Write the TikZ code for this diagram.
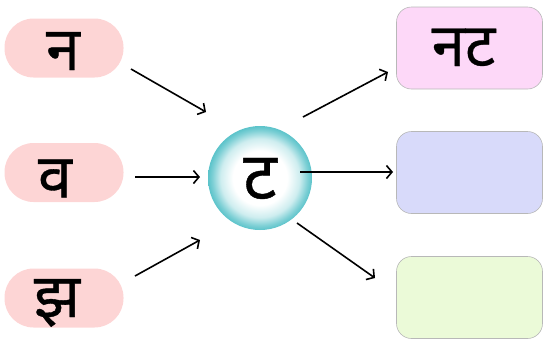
\documentclass[tikz,border=0pt]{standalone}
\usepackage{fontspec}
\newfontfamily\deva[Script=Devanagari,FakeBold=0.6]{Noto Sans}
\usetikzlibrary{arrows.meta}
\definecolor{pillpink}{HTML}{FDD5D5}
\definecolor{boxA}{HTML}{FDD8F8}
\definecolor{boxB}{HTML}{D8DAFA}
\definecolor{boxC}{HTML}{EBFAD8}
\definecolor{teal}{HTML}{5BC3CA}
\definecolor{edgegray}{HTML}{B8B8B8}
\pgfdeclareradialshading{ballshade}{\pgfpoint{0bp}{0bp}}{color(0bp)=(white); color(13bp)=(white); color(19bp)=(teal!30!white); color(23bp)=(teal!80!white); color(25bp)=(teal); color(50bp)=(teal)}
% #1 = twice the horizontal shift, #2 = baseline offset below centre, #3 = text
\newcommand{\gl}[3]{\makebox[0pt]{\hspace*{#1}\raisebox{-#2}{#3}}}
\begin{document}
\begin{tikzpicture}[x=1pt,y=-1pt,
  pill/.style={fill=pillpink,rounded corners=29pt,minimum width=119pt,minimum height=59pt,inner sep=0pt,text height=0pt,text depth=0pt,font=\deva\fontsize{61}{61}\selectfont},
  outbox/.style={draw=edgegray,line width=0.6pt,rounded corners=15pt,minimum width=146pt,minimum height=82pt,inner sep=0pt,text height=0pt,text depth=0pt,font=\deva\fontsize{60}{60}\selectfont},
  arr/.style={-{Straight Barb[length=5.5pt,width=13pt,line width=1.6pt]},line width=1.6pt}]
\useasboundingbox (0,0) rectangle (543,338);
\node[pill] (n) at (64,48) {\gl{-2pt}{22pt}{न}};
\node[pill] (v) at (64,172.5) {\gl{-18pt}{25pt}{व}};
\node[pill] (j) at (64,298) {\gl{-14pt}{19pt}{झ}};
\node[circle,minimum size=104pt,inner sep=0pt,shading=ballshade,text height=0pt,text depth=0pt,font=\deva\fontsize{66}{66}\selectfont] (t) at (260,178) {\gl{0pt}{21pt}{ट}};
\node[outbox,fill=boxA] (r1) at (469.5,48) {\gl{-12pt}{18pt}{नट}};
\node[outbox,fill=boxB] (r2) at (469.5,172.5) {};
\node[outbox,fill=boxC] (r3) at (469.5,297.5) {};
\coordinate (a1s) at (131,69); \coordinate (a1e) at (206,112);
\coordinate (a2s) at (135,177); \coordinate (a2e) at (200,177);
\coordinate (a3s) at (135,276); \coordinate (a3e) at (200,240);
\coordinate (b1s) at (303,117); \coordinate (b1e) at (388,72);
\coordinate (b2s) at (300,172); \coordinate (b2e) at (393,172);
\coordinate (b3s) at (297,223); \coordinate (b3e) at (375,278);
\draw[arr] (a1s) -- (a1e);
\draw[arr] (a2s) -- (a2e);
\draw[arr] (a3s) -- (a3e);
\draw[arr] (b1s) -- (b1e);
\draw[arr] (b2s) -- (b2e);
\draw[arr] (b3s) -- (b3e);
\end{tikzpicture}
\end{document}
